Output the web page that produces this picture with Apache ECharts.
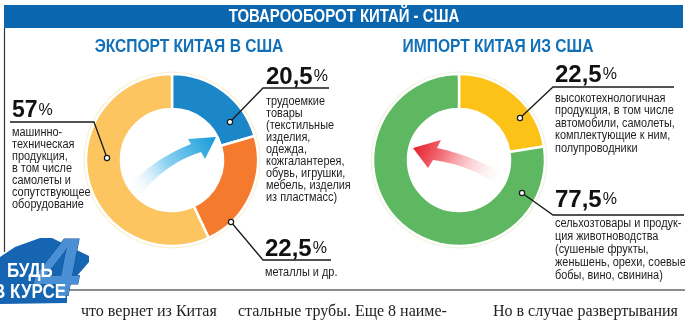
<!DOCTYPE html>
<html>
<head>
<meta charset="utf-8">
<title>Товарооборот Китай - США</title>
<script src="https://cdn.jsdelivr.net/npm/echarts@6/dist/echarts.min.js"></script>
<style>
  html, body { margin: 0; padding: 0; background: #fff; }
  #chart { width: 685px; height: 320px; }
</style>
</head>
<body>
<div id="chart"></div>
<script>
// данные
const title = 'ТОВАРООБОРОТ КИТАЙ - США'
const exportTitle = 'ЭКСПОРТ КИТАЯ В США'
const importTitle = 'ИМПОРТ КИТАЯ ИЗ США'

const exportNames = ['трудоемкие товары', 'металлы и др.', 'машинно-техническая продукция']
const exportValues = [20.5, 22.5, 57]
const exportLabels = ['20,5', '22,5', '57']
const exportNotes = [
  ['трудоемкие', 'товары', '(текстильные', 'изделия,', 'одежда,', 'кожгалантерея,', 'обувь, игрушки,', 'мебель, изделия', 'из пластмасс)'],
  ['металлы и др.'],
  ['машинно-', 'техническая', 'продукция,', 'в том числе', 'самолеты и', 'сопутствующее', 'оборудование']
]

const importNames = ['высокотехнологичная продукция', 'сельхозтовары и продукция животноводства']
const importValues = [22.5, 77.5]
const importLabels = ['22,5', '77,5']
const importNotes = [
  ['высокотехнологичная', 'продукция, в том числе', 'автомобили, самолеты,', 'комплектующие к ним,', 'полупроводники'],
  ['сельхозтовары и продук-', 'ция животноводства', '(сушеные фрукты,', 'женьшень, орехи, соевые', 'бобы, вино, свинина)']
]

const columnText = ['что вернет из Китая', 'стальные трубы. Еще 8 наиме-', 'Но в случае развертывания']

// оформление
const exportColors = ['#1b87c9', '#f47a2e', '#fcc560']
const importColors = ['#fcc218', '#5eb862']
const SANS = 'Liberation Sans, Arial, sans-serif'

const chart = echarts.init(document.getElementById('chart'))

function pieSeries(name, names, values, colors, center) {
  return {
    name,
    type: 'pie',
    center,
    radius: [51, 86],
    startAngle: 90,
    clockwise: true,
    silent: true,
    animation: false,
    label: { show: false },
    labelLine: { show: false },
    itemStyle: { borderColor: '#fff', borderWidth: 2.5 },
    data: names.map((n, i) => ({ name: n, value: values[i], itemStyle: { color: colors[i] } }))
  }
}

// точки квадратичной кривой для контура стрелки
function quad(p0, c, p1, n) {
  const pts = []
  for (let i = 0; i <= n; i++) {
    const t = i / n
    const a = (1 - t) * (1 - t), b = 2 * (1 - t) * t, d = t * t
    pts.push([a * p0[0] + b * c[0] + d * p1[0], a * p0[1] + b * c[1] + d * p1[1]])
  }
  return pts
}

// выноска: точка в секторе -> линия -> подчеркивание, число и подпись
function callout(c, num, notes) {
  return [
    {
      type: 'polyline',
      z: 110,
      shape: { points: [c.dot, [c.x0, c.y], [c.x1, c.y]] },
      style: { stroke: '#1a1a1a', lineWidth: 1.3, fill: null }
    },
    {
      type: 'circle',
      z: 111,
      shape: { cx: c.dot[0], cy: c.dot[1], r: 2.6 },
      style: { fill: '#fff', stroke: '#1a1a1a', lineWidth: 1.2 }
    },
    {
      type: 'text',
      z: 111,
      x: c.tx,
      y: c.numBottom,
      style: {
        text: '{n|' + num + '}{p|%}',
        align: 'left',
        verticalAlign: 'bottom',
        rich: {
          n: { fontFamily: SANS, fontWeight: 'bold', fontSize: c.size, fill: '#111', lineHeight: c.size },
          p: { fontFamily: SANS, fontSize: 16, fill: '#111', lineHeight: c.size, padding: [0, 0, 0, 1] }
        }
      }
    },
    {
      type: 'text',
      z: 111,
      x: c.tx,
      y: c.noteTop,
      scaleX: 0.91,
      style: {
        text: notes.join('\n'),
        fontFamily: SANS,
        fontSize: 12,
        lineHeight: c.lh,
        fill: '#1e1e1e',
        align: 'left',
        verticalAlign: 'top'
      }
    }
  ]
}

const exportCallouts = [
  { dot: [230, 122], x0: 263, x1: 329, y: 88, tx: 266, numBottom: 89, size: 24, noteTop: 96, lh: 12 },
  { dot: [231, 222], x0: 263, x1: 331, y: 260, tx: 265, numBottom: 261, size: 24, noteTop: 267, lh: 12 },
  { dot: [107, 158], x0: 94, x1: 10, y: 122, tx: 12, numBottom: 122, size: 23, noteTop: 127, lh: 12 }
]
const importCallouts = [
  { dot: [520, 118], x0: 553, x1: 674, y: 87, tx: 555, numBottom: 87, size: 24, noteTop: 92, lh: 12.5 },
  { dot: [522, 193], x0: 553, x1: 684, y: 215, tx: 555, numBottom: 212, size: 24, noteTop: 217, lh: 13 }
]

const blueArrow = [].concat(
  quad([130, 184], [156, 158], [191, 144], 12),
  [[188, 139], [216, 137], [205, 159], [201, 152]],
  quad([201, 152], [166, 163], [141, 194], 12)
)
const redArrow = [].concat(
  [[413, 148], [441, 140], [437, 148]],
  quad([437, 148], [470, 155], [500, 172], 12),
  quad([494, 182], [465, 164], [433, 160], 12),
  [[428, 168]]
)

function heading(text, x, y, size, color, sx) {
  return {
    type: 'text', z: 2, x, y, scaleX: sx,
    style: { text, fontFamily: SANS, fontWeight: 'bold', fontSize: size, fill: color, align: 'center', verticalAlign: 'middle' }
  }
}

const graphics = [
  // шапка
  { type: 'rect', z: 1, shape: { x: 4, y: 5, width: 679, height: 23 }, style: { fill: '#0b66b0' } },
  heading(title, 344, 17, 18, '#fff', 0.83),
  heading(exportTitle, 189, 47, 19, '#1270b8', 0.82),
  heading(importTitle, 498, 47, 19, '#1270b8', 0.82),
  // рамка
  { type: 'line', z: 1, shape: { x1: 4.5, y1: 28, x2: 4.5, y2: 252 }, style: { stroke: '#333', lineWidth: 1.2 } },
  { type: 'line', z: 1, shape: { x1: 64, y1: 290, x2: 685, y2: 290 }, style: { stroke: '#8c8c8c', lineWidth: 2 } },
  // светлая кайма вокруг колец
  { type: 'ring', z: 0, shape: { cx: 172, cy: 160, r: 88.5, r0: 84 }, style: { fill: '#fbf0d4' } },
  { type: 'ring', z: 0, shape: { cx: 459, cy: 160, r: 88.5, r0: 84 }, style: { fill: '#eff4e0' } },
  // стрелки
  {
    type: 'polygon', z: 5,
    shape: { points: blueArrow },
    style: {
      fill: new echarts.graphic.LinearGradient(0, 1, 1, 0, [
        { offset: 0, color: 'rgba(255,255,255,0)' },
        { offset: 0.45, color: '#8fd3f2' },
        { offset: 1, color: '#139ad8' }
      ])
    }
  },
  {
    type: 'polygon', z: 5,
    shape: { points: redArrow },
    style: {
      fill: new echarts.graphic.LinearGradient(0, 0, 1, 1, [
        { offset: 0, color: '#e41420' },
        { offset: 0.35, color: '#f3747c' },
        { offset: 1, color: 'rgba(255,235,235,0)' }
      ])
    }
  },
  // логотип «Будь в курсе»
  {
    type: 'polygon', z: 20,
    shape: { points: [[0, 257], [15, 247], [40, 238], [52, 238], [89, 256], [89, 262], [70, 284], [67, 284], [67, 303], [0, 304]] },
    style: { fill: '#1565b2' }
  },
  {
    type: 'text', z: 21, x: 58, y: 272,
    style: { text: '4', fontFamily: SANS, fontWeight: 'bold', fontStyle: 'italic', fontSize: 82, fill: '#4a8fd3', stroke: '#0e4f96', lineWidth: 1, align: 'center', verticalAlign: 'middle' }
  },
  {
    type: 'text', z: 22, x: 7, y: 271, scaleX: 0.85,
    style: { text: 'БУДЬ', fontFamily: SANS, fontWeight: 'bold', fontSize: 20, fill: '#fff', align: 'left', verticalAlign: 'middle' }
  },
  {
    type: 'text', z: 22, x: 66, y: 292, scaleX: 0.85,
    style: { text: 'В КУРСЕ', fontFamily: SANS, fontWeight: 'bold', fontSize: 20, fill: '#fff', align: 'right', verticalAlign: 'middle' }
  }
]

exportLabels.forEach((l, i) => graphics.push(...callout(exportCallouts[i], l, exportNotes[i])))
importLabels.forEach((l, i) => graphics.push(...callout(importCallouts[i], l, importNotes[i])))

// текст статьи под инфографикой
const columnX = [81, 238, 493]
columnText.forEach((t, i) => {
  graphics.push({
    type: 'text', z: 2, x: columnX[i], y: 312,
    style: { text: t, fontFamily: 'Liberation Serif, Times New Roman, serif', fontSize: 16, fill: '#222', align: 'left', verticalAlign: 'middle' }
  })
})

const option = {
  backgroundColor: '#fff',
  animation: false,
  series: [
    pieSeries('Экспорт', exportNames, exportValues, exportColors, [172, 160]),
    pieSeries('Импорт', importNames, importValues, importColors, [459, 160])
  ],
  graphic: { elements: graphics }
}

chart.setOption(option)
</script>
</body>
</html>
